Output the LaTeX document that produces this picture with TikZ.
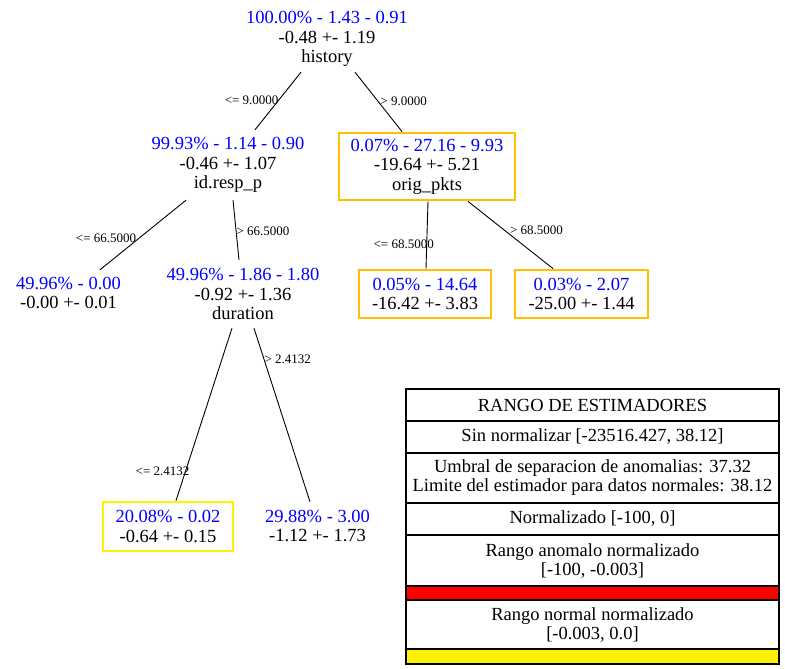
\documentclass[tikz,border=0pt]{standalone}
\usepackage{fontspec}
\setmainfont{Liberation Serif}
\usepackage{tikz}
\usetikzlibrary{positioning}
\definecolor{leafgold}{RGB}{255,192,0}

\begin{document}
\begin{tikzpicture}[
    x=1pt, y=-1pt,
    split/.style={inner sep=0pt, align=center,
                  font=\fontsize{18.5}{19.5}\selectfont},
    goldbox/.style={draw=leafgold, line width=2.8pt, inner sep=0pt,
                    align=center, font=\fontsize{18.5}{19.5}\selectfont},
    yelbox/.style={goldbox, draw=yellow},
    edge/.style={line width=0.9pt},
    cond/.style={font=\fontsize{13}{15}\selectfont, inner sep=0pt},
    row/.style={draw, line width=1.4pt, outer sep=0pt, inner sep=0pt,
                minimum width=373pt, align=center,
                font=\fontsize{18.5}{19}\selectfont},
  ]
    \useasboundingbox (0,0) rectangle (785,669);

    % === Tree nodes ===
    \node[split, minimum height=66pt] (hist) at (327,39)
      {\textcolor{blue}{100.00\% - 1.43 - 0.91}\\-0.48 +- 1.19\\history};
    \node[split, minimum height=70pt] (resp) at (228,165)
      {\textcolor{blue}{99.93\% - 1.14 - 0.90}\\-0.46 +- 1.07\\id.resp\_p};
    \node[goldbox, minimum width=176pt, minimum height=67pt] (pkts) at (427,166.5)
      {\textcolor{blue}{0.07\% - 27.16 - 9.93}\\-19.64 +- 5.21\\orig\_pkts};

    \node[split, minimum height=46pt] (lowresp) at (68.5,293)
      {\textcolor{blue}{49.96\% - 0.00}\\-0.00 +- 0.01};
    \node[split, minimum height=68pt] (dur) at (243,294)
      {\textcolor{blue}{49.96\% - 1.86 - 1.80}\\-0.92 +- 1.36\\duration};
    \node[goldbox, minimum width=132pt, minimum height=48pt] (lowpkts) at (425,294)
      {\textcolor{blue}{0.05\% - 14.64}\\-16.42 +- 3.83};
    \node[goldbox, minimum width=133pt, minimum height=48pt] (highpkts) at (581.5,294)
      {\textcolor{blue}{0.03\% - 2.07}\\-25.00 +- 1.44};

    \node[yelbox, minimum width=130pt, minimum height=49pt] (lowdur) at (168,526.5)
      {\textcolor{blue}{20.08\% - 0.02}\\-0.64 +- 0.15};
    \node[split, minimum height=48pt] (highdur) at (317.5,526)
      {\textcolor{blue}{29.88\% - 3.00}\\-1.12 +- 1.73};

    % === Splits ===
    \draw[edge] ([xshift=-26pt]hist.south) -- node[cond, pos=0.48, anchor=east] {<= 9.0000} ([xshift=27pt]resp.north);
    \draw[edge] ([xshift=28pt]hist.south) -- node[cond, pos=0.49, anchor=west, xshift=2pt] {> 9.0000} ([xshift=-25pt]pkts.north);

    \draw[edge] ([xshift=-42pt]resp.south) -- node[cond, pos=0.54, anchor=east, xshift=-3pt] {<= 66.5000} ([xshift=31.5pt]lowresp.north);
    \draw[edge] ([xshift=5pt]resp.south) -- node[cond, pos=0.52, anchor=west] {> 66.5000} ([xshift=-4pt]dur.north);

    \draw[edge] ([xshift=1pt]pkts.south) -- node[cond, pos=0.64, xshift=-23pt] {<= 68.5000} ([xshift=1pt]lowpkts.north);
    \draw[edge] ([xshift=41pt]pkts.south) -- node[cond, pos=0.43, anchor=west, xshift=5pt] {> 68.5000} ([xshift=-28.5pt]highpkts.north);

    \draw[edge] ([xshift=-11pt]dur.south) -- node[cond, pos=0.83, xshift=-23pt] {<= 2.4132} ([xshift=8pt]lowdur.north);
    \draw[edge] ([xshift=11pt]dur.south) -- node[cond, pos=0.18, anchor=west] {> 2.4132} ([xshift=-7.5pt]highdur.north);

    % === Legend ===
    \node[row, anchor=north west, minimum height=32pt] (title) at (406,389)
      {RANGO DE ESTIMADORES};
    \node[row, below=0pt of title, minimum height=32pt] (raw)
      {Sin normalizar [-23516.427, 38.12]};
    \node[row, below=0pt of raw, minimum height=50pt] (thres)
      {Umbral de separacion de anomalias: 37.32\\Limite del estimador para datos normales: 38.12};
    \node[row, below=0pt of thres, minimum height=32pt] (norm)
      {Normalizado [-100, 0]};
    \node[row, below=0pt of norm, minimum height=51pt] (anom)
      {Rango anomalo normalizado\\{}[-100, -0.003]};
    \node[row, below=0pt of anom, minimum height=14pt, fill=red] (anomcol) {};
    \node[row, below=0pt of anomcol, minimum height=49pt] (normal)
      {Rango normal normalizado\\{}[-0.003, 0.0]};
    \node[row, below=0pt of normal, minimum height=15pt, fill=yellow] (normalcol) {};
  \end{tikzpicture}
\end{document}
